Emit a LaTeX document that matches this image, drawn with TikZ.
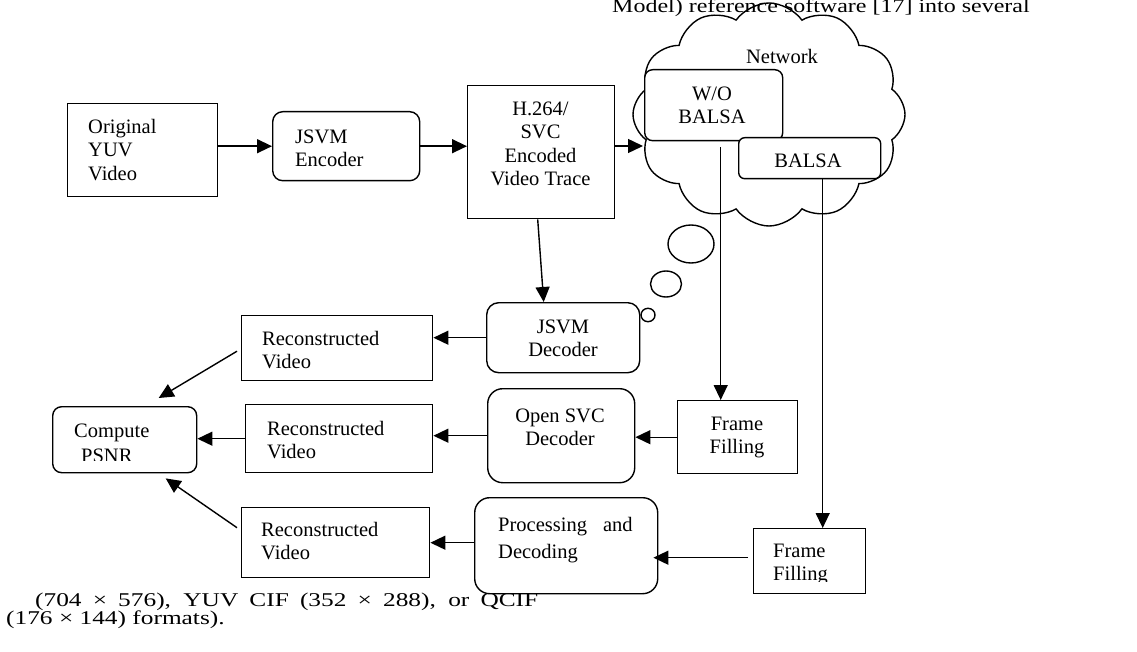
\documentclass[tikz,border=0pt]{standalone}
\usepackage{fontspec}
\setmainfont{Liberation Serif}
\usepackage{graphicx}
\usetikzlibrary{arrows.meta,shapes.symbols}
\newcommand\firstln{\rule{0pt}{15pt}}
\begin{document}
\begin{tikzpicture}[x=1pt,y=-1pt,
  boxbase/.style={draw, line width=1.4pt, fill=white, inner sep=0pt, anchor=north west},
  sq/.style={boxbase},
  rnd/.style={boxbase, rounded corners=#1},
  rnd/.default=10pt,
  arr/.style={line width=1.4pt, -{Triangle[length=15pt,width=14pt]}},
  txt/.style={inner sep=0pt, font=\fontsize{20.5}{23.5}\selectfont},
  captxt/.style={inner sep=0pt, font=\fontsize{19.5}{20}\selectfont},
  bubble/.style={draw, line width=1.4pt}
]
\useasboundingbox (0,0) rectangle (1137,652);

% network cloud and thought bubbles
\node[cloud, draw, line width=1.4pt, cloud puffs=12, cloud puff arc=110, aspect=1.22,
      minimum width=272pt, minimum height=223pt, inner sep=0pt] (net) at (769,114.5) {};
\node[txt, anchor=north] (net-t) at (782,48) {\firstln Network};
\draw[bubble] (691,244) ellipse [x radius=23pt, y radius=19pt];
\draw[bubble] (666,284) ellipse [x radius=15.5pt, y radius=13pt];
\draw[bubble] (648,315) ellipse [x radius=7pt, y radius=6.7pt];

% boxes
\node[sq, minimum width=150pt, minimum height=93pt] (orig) at (67,103) {};
\node[rnd=10pt, minimum width=147pt, minimum height=69pt] (jenc) at (272,111) {};
\node[sq, minimum width=147pt, minimum height=133pt] (h264) at (467,85) {};
\node[rnd=8pt, minimum width=138pt, minimum height=71pt] (wo) at (644,69) {};
\node[rnd=6pt, minimum width=142pt, minimum height=41pt] (balsa) at (738,137) {};
\node[rnd=12pt, minimum width=153pt, minimum height=70pt] (jdec) at (486,302) {};
\node[rnd=15pt, minimum width=147pt, minimum height=94pt] (osvc) at (487,388) {};
\node[sq, minimum width=120pt, minimum height=73pt] (ff1) at (677,400) {};
\node[sq, minimum width=191pt, minimum height=65pt] (rec1) at (241,315) {};
\node[sq, minimum width=187pt, minimum height=68pt] (rec2) at (245,404) {};
\node[rnd=9pt, minimum width=144pt, minimum height=66pt] (psnr) at (52,406) {};
\node[sq, minimum width=188pt, minimum height=70pt] (rec3) at (241,507) {};
\node[rnd=15pt, minimum width=183pt, minimum height=96pt] (proc) at (474,497) {};
\node[sq, minimum width=112pt, minimum height=65pt] (ff2) at (753,528) {};

% texts
\node[txt, align=left, anchor=north west] (orig-t) at (88,118) {\firstln Original\\YUV\\Video};
\node[txt, align=left, anchor=north west] (jenc-t) at (295,128) {\firstln JSVM\\Encoder};
\node[txt, align=center, anchor=north] (h264-t) at (540.5,100) {\firstln H.264/\\SVC\\Encoded\\Video Trace};
\node[txt, align=center, anchor=north] (wo-t) at (712,85) {\firstln W/O\\BALSA};
\node[txt, align=center, anchor=north] (balsa-t) at (808,152) {\firstln BALSA};
\node[txt, align=center, anchor=north] (jdec-t) at (563,318) {\firstln JSVM\\Decoder};
\node[txt, align=center, anchor=north] (osvc-t) at (560,407) {\firstln Open SVC\\Decoder};
\node[txt, align=center, anchor=north] (ff1-t) at (737,415) {\firstln Frame\\Filling};
\node[txt, align=left, anchor=north west] (rec1-t) at (262,330) {\firstln Reconstructed\\Video};
\node[txt, align=left, anchor=north west] (rec2-t) at (267,420) {\firstln Reconstructed\\Video};
\node[txt, align=left, anchor=north west] (rec3-t) at (261,521) {\firstln Reconstructed\\Video};
\node[txt, font=\fontsize{20.5}{27}\selectfont, align=left, anchor=north west] (proc-t) at (498,516) {\firstln Processing\hspace{16pt}and\\Decoding};
\begin{scope}
  \clip (60,410) rectangle (190,460.5);
  \node[txt, font=\fontsize{20.5}{25}\selectfont, align=left, anchor=north west] (psnr-t) at (74,422) {\firstln Compute\\\hspace*{7pt}PSNR};
\end{scope}
\begin{scope}
  \clip (760,532) rectangle (860,581);
  \node[txt, align=left, anchor=north west] (ff2-t) at (773,542) {\firstln Frame\\Filling};
\end{scope}

% surrounding text
\node[captxt, anchor=base west] (top-t) at (612,13) {\scalebox{1.23}[1]{Model) reference software [17] into several}};
\node[captxt, anchor=base west] (cap1) at (35,606) {\scalebox{1.3}[1]{\makebox[387pt][s]{(704 × 576), YUV CIF (352 × 288), or QCIF}}};
\node[captxt, anchor=base west] (cap2) at (6,624) {\scalebox{1.3}[1]{(176 × 144) formats).}};

% connectors
\coordinate (netin) at (643,146);
\draw[arr] (orig.east |- jenc.west) -- (jenc.west);
\draw[arr] (jenc.east) -- (jenc.east -| h264.west);
\draw[arr] (h264.east |- netin) -- (netin);
\draw[arr] ([xshift=-3.5pt]h264.south) -- ([xshift=-19.5pt]jdec.north);
\draw[arr] (jdec.west) -- (jdec.west -| rec1.east);
\draw[arr] (osvc.west) -- (osvc.west -| rec2.east);
\draw[arr] (ff1.west) -- (ff1.west -| osvc.east);
\draw[arr] ([shift={(7pt,-6pt)}]wo.south) -- ([xshift=7pt]wo.south |- ff1.north);
\draw[arr] ([xshift=13pt]balsa.south) -- ([xshift=13pt]balsa.south |- ff2.north);
\draw[arr] ([shift={(-5pt,3.5pt)}]ff2.west) -- ([shift={(-5pt,3.5pt)}]ff2.west -| proc.east);
\draw[arr] (rec3.east -| proc.west) -- (rec3.east);
\draw[arr] (rec2.west) -- (rec2.west -| psnr.east);
\draw[arr] ([shift={(-4pt,-3pt)}]rec1.west) -- ([shift={(34pt,8pt)}]psnr.north);
\draw[arr] ([shift={(-4pt,15pt)}]rec3.west) -- ([shift={(41pt,-5pt)}]psnr.south);
\end{tikzpicture}
\end{document}
